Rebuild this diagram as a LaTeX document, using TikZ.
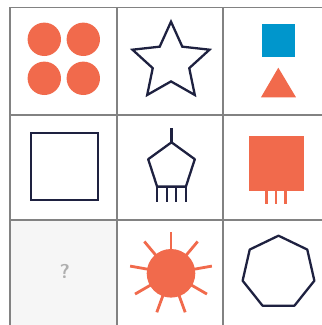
\documentclass[tikz,border=0pt]{standalone}
\usetikzlibrary{calc}
\definecolor{orng}{RGB}{241,106,76}
\definecolor{navy}{RGB}{30,33,64}
\definecolor{blu}{RGB}{0,150,204}
\definecolor{gridc}{RGB}{130,130,130}
\definecolor{cellbg}{RGB}{246,246,246}
\definecolor{qgray}{RGB}{175,175,175}
\tikzset{
  gridline/.style={draw=gridc, line width=1.6pt},
  outline/.style={draw=navy, line width=2.3pt},
  ray/.style={draw=orng, line width=2.8pt},
  leg/.style={draw=orng, line width=2.6pt},
}
\begin{document}
\begin{tikzpicture}[x=1pt,y=-1pt]
\useasboundingbox (0,0) rectangle (322,325);
\fill[white] (0,0) rectangle (322,325);
% shaded cell
\fill[cellbg] (10,219.7) rectangle (117.3,325);
% grid
\draw[gridline] (10,325) -- (10,7.3) -- (322,7.3);
\draw[gridline] (117.3,7.3) -- (117.3,325);
\draw[gridline] (223.3,7.3) -- (223.3,325);
\draw[gridline] (10,114.7) -- (322,114.7);
\draw[gridline] (10,219.7) -- (322,219.7);
% cell 1: four circles
\foreach \cx in {44.3,83.3}{\foreach \cy in {39.3,78.3}{
  \fill[orng] (\cx,\cy) circle (16.7);}}
% cell 2: star
\begin{scope}[shift={(171,62.2)}, yscale=-1]
\draw[outline, line join=miter] (90:40.5) -- (126:19.2) -- (162:40.5) -- (198:19.2) -- (234:40.5) -- (270:19.2) -- (306:40.5) -- (342:19.2) -- (18:40.5) -- (54:19.2) -- cycle;
\end{scope}
% cell 3: blue square and triangle
\fill[blu] (261.7,24) rectangle (295,57.3);
\fill[orng] (261,97.3) -- (278.3,67.7) -- (296,97.3) -- cycle;
% cell 4: square outline
\draw[outline] (31,133.3) rectangle (97.7,200);
% cell 5: pentagon with stem and legs
\coordinate (ptop) at (171.5,142.3);
\coordinate (stem) at (171.5,127.7);
\draw[outline, line join=round] (171.5,142.3) -- (194.8,159.2) -- (185.9,186.6) -- (157.1,186.6) -- (148.2,159.2) -- cycle;
\draw[outline] (ptop) -- (stem);
\foreach \lx in {157.1,166.7,176.3,185.9}{
  \draw[outline] (\lx,186.6) -- (\lx,201.7);}
% cell 6: orange square with legs
\fill[orng] (249.3,136) rectangle (304,191);
\foreach \lx in {266.7,276.2,285.7}{
  \draw[leg] (\lx,190) -- (\lx,204);}
% cell 7: question mark
\node[font=\sffamily\bfseries\fontsize{20}{20}\selectfont, text=qgray] (q) at (64.8,271.5) {?};
% cell 8: sun
\begin{scope}[shift={(171,273.3)}, yscale=-1]
\foreach \a in {90,50,10,-30,-70,-110,-150,170,130}{
  \draw[ray] (\a:20) -- (\a:41.5);}
\fill[orng] (0,0) circle (24.3);
\end{scope}
% cell 9: heptagon
\begin{scope}[shift={(278.5,272.5)}, yscale=-1]
\draw[outline, line join=round] (90:36.8) \foreach \k in {1,...,6}{ -- ({90+51.4286*\k}:36.8)} -- cycle;
\end{scope}
\end{tikzpicture}
\end{document}
